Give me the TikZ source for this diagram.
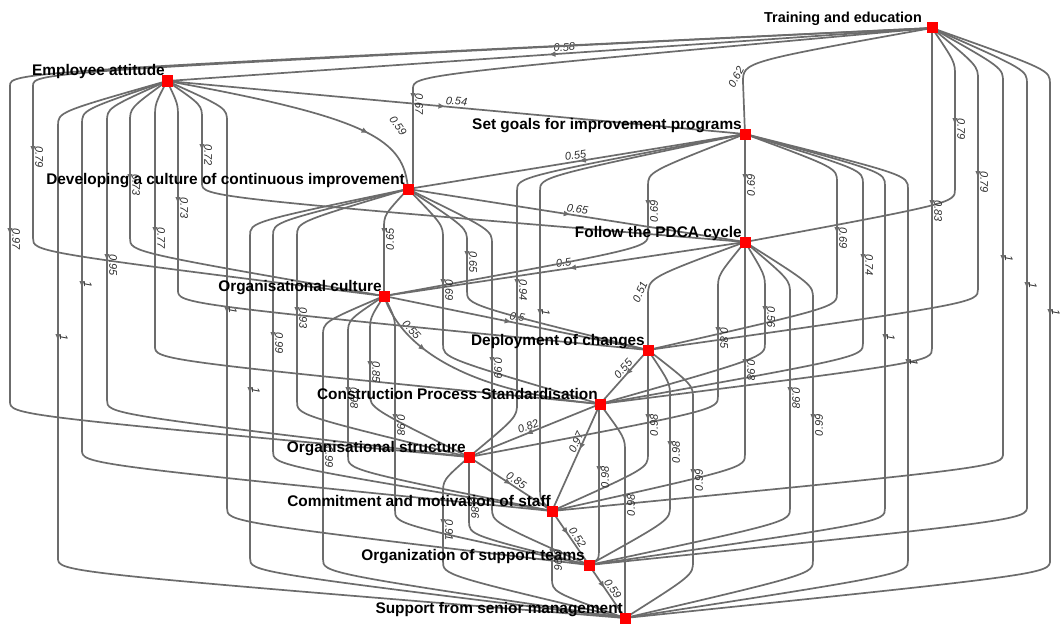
\documentclass[tikz,border=0pt]{standalone}
\usepackage{fontspec}
\setmainfont{Liberation Sans}
\usetikzlibrary{arrows.meta,decorations.markings}
\pgfdeclarelayer{bg}
\pgfsetlayers{bg,main}
\definecolor{edgecol}{RGB}{108,108,108}
\definecolor{labcol}{RGB}{45,45,45}
\definecolor{nodered}{RGB}{255,0,0}
\tikzset{
  sq/.style={fill=nodered, minimum size=11pt, inner sep=0pt, draw=none},
  ntext/.style={font=\fontsize{15.4}{17}\selectfont\bfseries, text=black, anchor=base east, inner sep=0pt},
  edge/.style={draw=edgecol, line width=1.7pt},
  lab/.style={font=\fontsize{11}{12}\selectfont\itshape, text=labcol, inner sep=0.5pt},
  ldn/.style={rotate=-90, anchor=south west},
  lup/.style={rotate=90, anchor=north east},
  mk/.style={postaction={decorate}, decoration={markings, mark=at position #1 with {\arrow{Triangle[length=6pt,width=5pt]}}}},
}
% lane edge: [label style]{src}{tgt}{lane x}{top corner y}{bottom corner y}{label}{label y}
\newcommand\lane[8][ldn]{%
  \begin{pgfonlayer}{bg}
  \draw[edge] (#2.center) .. controls (#4,#5) .. (#4,#5+14) -- (#4,#8) -- (#4,#6-14) .. controls (#4,#6) .. (#3.center);
  \fill[edgecol] (#4-2.6,#8-6) -- (#4+2.6,#8-6) -- (#4,#8) -- cycle;
  \end{pgfonlayer}
  \node[lab,#1] at (#4+1.5,#8-6) {#7};
}
\begin{document}
\begin{tikzpicture}[x=1pt,y=-1pt]
\begin{pgfonlayer}{bg}
\fill[white] (0,0) rectangle (1060,626);
\end{pgfonlayer}
\useasboundingbox (0,0) rectangle (1060,626);

% nodes
\node[sq] (TE) at (932,28) {};
\node[sq] (EA) at (167,81) {};
\node[sq] (SG) at (745,134) {};
\node[sq] (DC) at (408,189) {};
\node[sq] (PD) at (745,242) {};
\node[sq] (OC) at (384,296) {};
\node[sq] (DP) at (648,350) {};
\node[sq] (CP) at (600,404) {};
\node[sq] (OS) at (469,457) {};
\node[sq] (CM) at (552,511) {};
\node[sq] (OT) at (589,565) {};
\node[sq] (SS) at (625,618) {};

\node[ntext, font=\fontsize{14.4}{16}\selectfont\bfseries] (TEt) at ([xshift=-10pt,yshift=5pt]TE.center) {Training and education};
\node[ntext] (EAt) at ([xshift=-2pt,yshift=5pt]EA.center) {Employee attitude};
\node[ntext] (SGt) at ([xshift=-3pt,yshift=5pt]SG.center) {Set goals for improvement programs};
\node[ntext] (DCt) at ([xshift=-3pt,yshift=5pt]DC.center) {Developing a culture of continuous improvement};
\node[ntext] (PDt) at ([xshift=-3pt,yshift=5pt]PD.center) {Follow the PDCA cycle};
\node[ntext] (OCt) at ([xshift=-2pt,yshift=5pt]OC.center) {Organisational culture};
\node[ntext] (DPt) at ([xshift=-3pt,yshift=5pt]DP.center) {Deployment of changes};
\node[ntext] (CPt) at ([xshift=-2pt,yshift=5pt]CP.center) {Construction Process Standardisation};
\node[ntext] (OSt) at ([xshift=-3pt,yshift=5pt]OS.center) {Organisational structure};
\node[ntext] (CMt) at ([xshift=-1pt,yshift=5pt]CM.center) {Commitment and motivation of staff};
\node[ntext] (OTt) at ([xshift=-4pt,yshift=5pt]OT.center) {Organization of support teams};
\node[ntext] (SSt) at ([xshift=-2pt,yshift=5pt]SS.center) {Support from senior management};

% direct edges
\begin{pgfonlayer}{bg}
\draw[edge, mk=0.5] (TE.center) -- node[lab, sloped, above=1pt, pos=0.48] {0.58} (EA.center);
\draw[edge, mk=0.48] (EA.center) -- node[lab, sloped, above=1pt, pos=0.5] {0.54} (SG.center);
\draw[edge, mk=0.49] (SG.center) -- node[lab, sloped, above=1pt, pos=0.5] {0.55} (DC.center);
\draw[edge, mk=0.48] (DC.center) -- node[lab, sloped, above=1pt, pos=0.5] {0.65} (PD.center);
\draw[edge, mk=0.485] (PD.center) -- node[lab, sloped, above=1pt, pos=0.5] {0.5} (OC.center);
\draw[edge, mk=0.48] (OC.center) -- node[lab, sloped, above=1pt, pos=0.5] {0.5} (DP.center);
\draw[edge, mk=0.27] (OC.center) .. controls (402,350) and (470,392) .. node[lab, sloped, above=1pt, pos=0.25] {0.55} (CP.center);
\draw[edge, mk=0.45] (DP.center) -- node[lab, sloped, above=1pt, pos=0.42] {0.55} (CP.center);
\draw[edge, mk=0.56] (CP.center) -- node[lab, sloped, above=1pt, pos=0.53] {0.82} (OS.center);
\draw[edge, mk=0.42] (CP.center) -- node[lab, sloped, above=1pt, pos=0.38] {0.97} (CM.center);
\draw[edge, mk=0.5] (OS.center) -- node[lab, sloped, above=1pt, pos=0.53] {0.85} (CM.center);
\draw[edge, mk=0.42] (CM.center) -- node[lab, sloped, above=1pt, pos=0.55] {0.52} (OT.center);
\draw[edge, mk=0.42] (OT.center) -- node[lab, sloped, above=1pt, pos=0.52] {0.59} (SS.center);
% curved special edges
\draw[edge] (TE.center) .. controls (743,62) .. (743,82) -- (SG.center);
\draw[edge, mk=0.74] (EA.center) .. controls (372,118) and (404,140) .. (DC.center);
\draw[edge] (PD.center) .. controls (648,278) .. (648,296) -- (DP.center);
\end{pgfonlayer}
\node[lab, rotate=62] at (736,77) {0.62};
\node[lab, rotate=-55] at (398,126) {0.59};
\node[lab, rotate=66] at (640,292) {0.51};

% lane edges from Training and education
\lane{TE}{OS}{10}{72}{415}{0.97}{234}
\lane{TE}{OC}{33}{72}{252}{0.79}{152}
\lane{TE}{DC}{413}{75}{189}{0.67}{99}
\lane{TE}{CP}{932}{28}{362}{0.83}{206}
\lane{TE}{PD}{955}{62}{203}{0.79}{124}
\lane{TE}{DP}{978}{66}{303}{0.79}{177}
\lane{TE}{CM}{1003}{68}{467}{1}{261}
\lane{TE}{OT}{1027}{70}{520}{1}{288}
\lane{TE}{SS}{1050}{70}{574}{1}{315}
% from Employee attitude
\lane{EA}{SS}{58}{112}{572}{1}{340}
\lane{EA}{CM}{82}{110}{464}{1}{287}
\lane{EA}{OS}{107}{108}{414}{0.95}{260}
\lane{EA}{OC}{130}{108}{252}{0.73}{180}
\lane{EA}{CP}{155}{104}{360}{0.77}{233}
\lane{EA}{DP}{178}{104}{304}{0.73}{203}
\lane{EA}{PD}{202}{105}{197}{0.72}{150}
\lane{EA}{OT}{227}{108}{522}{1}{313}
% from Set goals
\lane[lup]{SG}{PD}{745}{134}{242}{0.69}{180}
\lane[lup]{SG}{OC}{648}{172}{248}{0.69}{206}
\lane{SG}{OS}{517}{177}{417}{0.94}{285}
\lane{SG}{CM}{540}{177}{500}{1}{315}
\lane{SG}{DP}{837}{168}{307}{0.69}{233}
\lane{SG}{CP}{863}{170}{357}{0.74}{260}
\lane{SG}{OT}{885}{172}{522}{1}{340}
\lane{SG}{SS}{908}{175}{574}{1}{365}
% from Developing a culture
\lane[lup]{DC}{OC}{384}{215}{296}{0.65}{234}
\lane{DC}{DP}{467}{228}{305}{0.65}{257}
\lane{DC}{CP}{443}{225}{358}{0.69}{285}
\lane{DC}{OT}{492}{230}{522}{0.99}{363}
\lane{DC}{OS}{297}{222}{415}{0.93}{313}
\lane{DC}{CM}{273}{222}{465}{0.99}{338}
\lane{DC}{SS}{250}{222}{572}{1}{393}
% from PDCA
\lane{PD}{OS}{718}{275}{410}{0.85}{333}
\lane{PD}{CM}{745}{242}{468}{0.98}{365}
\lane{PD}{CP}{765}{275}{357}{0.56}{312}
\lane{PD}{OT}{790}{280}{522}{0.98}{393}
\lane[lup]{PD}{SS}{813}{285}{574}{0.99}{420}
% from Organisational culture
\lane{OC}{OS}{370}{318}{408}{0.85}{367}
\lane{OC}{CM}{348}{320}{470}{0.98}{393}
\lane{OC}{OT}{395}{318}{524}{0.98}{420}
\lane{OC}{SS}{323}{322}{573}{0.99}{452}
% from Deployment of changes
\lane[lup]{DP}{CM}{648}{350}{468}{0.98}{420}
\lane[lup]{DP}{OT}{670}{383}{520}{0.98}{447}
\lane[lup]{DP}{SS}{693}{385}{575}{0.99}{475}
% from Construction Process Standardisation
\lane[lup]{CP}{OT}{599}{404}{560}{0.98}{472}
\lane[lup]{CP}{SS}{625}{438}{618}{0.98}{500}
% from Organisational structure
\lane{OS}{OT}{469}{457}{535}{0.86}{503}
\lane{OS}{SS}{443}{480}{575}{0.91}{525}
% from Commitment
\lane{CM}{SS}{552}{511}{592}{0.96}{555}
\end{tikzpicture}
\end{document}
